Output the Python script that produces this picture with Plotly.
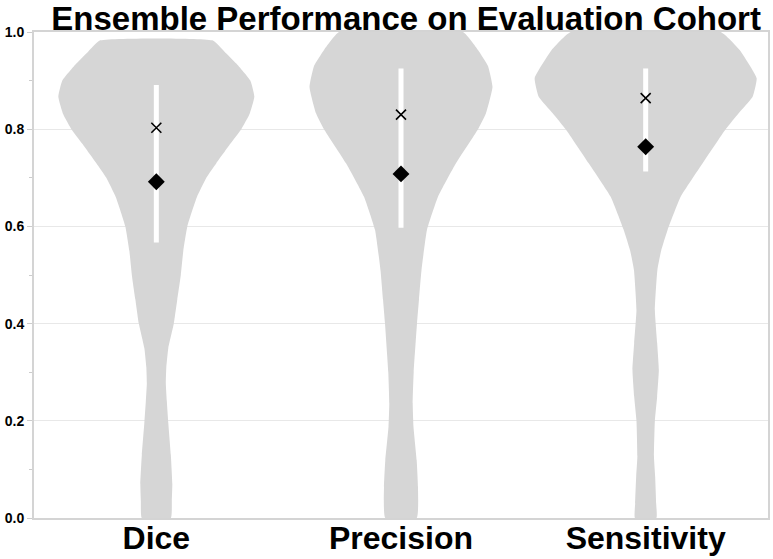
import plotly.graph_objects as go

# metrics shown on the x axis
categories = ["Dice", "Precision", "Sensitivity"]

# summary statistics
medians = [0.803, 0.830, 0.864]
means = [0.692, 0.708, 0.764]
iqr_low = [0.567, 0.597, 0.713]
iqr_high = [0.891, 0.925, 0.925]

# violin outlines: score levels and the (relative) kernel density at each level
dice_levels = [0.0, 0.035, 0.07, 0.13, 0.195, 0.24, 0.277, 0.31, 0.35, 0.40, 0.45, 0.50,
               0.55, 0.60, 0.66, 0.70, 0.73, 0.77, 0.80, 0.83, 0.867, 0.90, 0.935, 0.96, 0.982]
dice_density = [14.5, 15.5, 16, 14.5, 12, 10.5, 9.5, 10, 12, 17.5, 21, 24.5,
                27, 31, 40.5, 50, 60, 74, 85, 93, 98, 94, 80, 68, 57]

precision_levels = [0.0, 0.064, 0.119, 0.188, 0.236, 0.30, 0.40, 0.45, 0.51, 0.593, 0.661,
                    0.73, 0.80, 0.833, 0.887, 0.93, 0.963, 1.0]
precision_density = [15.7, 17, 15.7, 12.5, 11.7, 12.7, 16, 18, 20.5, 26, 37,
                     55, 77, 85, 91.5, 87, 77, 62]

sensitivity_levels = [0.0, 0.03, 0.085, 0.126, 0.20, 0.25, 0.305, 0.36, 0.428, 0.51, 0.55,
                      0.593, 0.661, 0.73, 0.80, 0.833, 0.867, 0.905, 0.963, 1.0]
sensitivity_density = [10.7, 10.5, 9.5, 8.3, 9.2, 11.5, 13.2, 11.5, 9.2, 11.7, 15.5,
                       22, 35, 57, 80, 93, 107, 111, 94, 75]

levels = [dice_levels, precision_levels, sensitivity_levels]
densities = [dice_density, precision_density, sensitivity_density]

VIOLIN_GRAY = "#d6d6d6"
WIDTH_SCALE = 1 / 244.7  # density units -> category units

fig = go.Figure()

for i, (lv, dens) in enumerate(zip(levels, densities)):
    xs = [i + d * WIDTH_SCALE for d in dens] + [i - d * WIDTH_SCALE for d in reversed(dens)]
    ys = list(lv) + list(reversed(lv))
    xs.append(xs[0])
    ys.append(ys[0])
    fig.add_trace(go.Scatter(
        x=xs, y=ys, mode="lines", fill="toself",
        fillcolor=VIOLIN_GRAY,
        line=dict(width=0, color=VIOLIN_GRAY, shape="spline", smoothing=0.4),
        hoverinfo="skip", showlegend=False,
    ))

# IQR bars
bar_x, bar_y = [], []
for i in range(len(categories)):
    bar_x.extend([i, i, None])
    bar_y.extend([iqr_low[i], iqr_high[i], None])
fig.add_trace(go.Scatter(
    x=bar_x, y=bar_y, mode="lines",
    line=dict(color="white", width=5), hoverinfo="skip", showlegend=False,
))

# medians (x) and means (diamond)
fig.add_trace(go.Scatter(
    x=list(range(len(categories))), y=medians, mode="markers",
    marker=dict(symbol="x-thin", size=10, line=dict(color="black", width=1.6), color="black"),
    name="Median", showlegend=False,
))
fig.add_trace(go.Scatter(
    x=list(range(len(categories))), y=means, mode="markers",
    marker=dict(symbol="diamond", size=13, color="black"),
    name="Mean", showlegend=False,
))

font_family = "Liberation Sans, Arial, sans-serif"

fig.update_layout(
    width=773, height=559,
    margin=dict(l=34, r=5, t=32, b=41, autoexpand=False),
    paper_bgcolor="white", plot_bgcolor="white",
    title=dict(
        text="Ensemble Performance on Evaluation Cohort",
        font=dict(family=font_family, size=33, color="black", weight="bold"),
        x=0.507, xref="paper", xanchor="center",
        y=0.988, yref="container", yanchor="top", automargin=False,
    ),
    xaxis=dict(
        range=[-0.5, 2.5], tickvals=[0, 1, 2],
        ticktext=categories,
        tickfont=dict(family=font_family, size=32, color="black", weight="bold"),
        showgrid=False, zeroline=False, ticks="", ticklabelstandoff=-9,
        showline=True, linecolor="#d4d4d4", linewidth=2, mirror=True,
        automargin=False,
    ),
    yaxis=dict(
        range=[0, 1], dtick=0.2, tick0=0, tickformat=".1f",
        tickfont=dict(family=font_family, size=14, color="black", weight="bold"),
        showgrid=True, gridcolor="#e8e8e8", gridwidth=1, zeroline=False,
        ticks="outside", ticklen=5, tickcolor="#cccccc", tickwidth=1,
        minor=dict(dtick=0.1, ticks="outside", ticklen=3, tickcolor="#cccccc", showgrid=False),
        showline=True, linecolor="#d4d4d4", linewidth=2, mirror=True,
        automargin=False,
    ),
)

fig.write_html("out.html", config={"displayModeBar": False},
               post_script="document.body.style.margin='0';")
